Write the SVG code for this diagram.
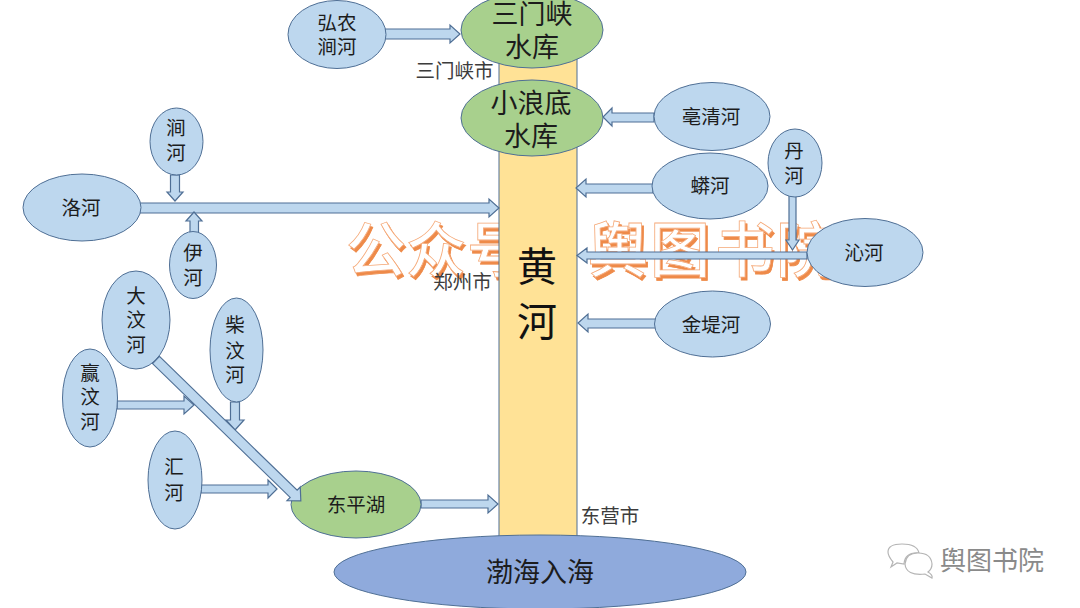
<svg xmlns="http://www.w3.org/2000/svg" width="1080" height="608" viewBox="0 0 1080 608">
<style>
text{font-family:"Liberation Sans","Noto Sans CJK SC",sans-serif;text-anchor:middle;fill:#1c1c1c}
.b ellipse{fill:#bdd7ee;stroke:#4f6f95;stroke-width:1}
.g ellipse{fill:#a8d08d;stroke:#4f6f95;stroke-width:1}
.a polygon{fill:#bdd7ee;stroke:#4f6f95;stroke-width:1.2;stroke-linejoin:miter}
.n{font-size:19.500px}
.l{font-size:27px}
.c{font-size:19.500px;fill:#3c3c3c}
.w{font-size:60px;font-weight:500;fill:#fff;stroke:#f5a978;stroke-width:0.800;filter:url(#sh)}
.m{font-size:26px;fill:#8a8a8a}
</style>
<defs><filter id="sh" x="-5%" y="-20%" width="110%" height="140%"><feDropShadow dx="2" dy="3" stdDeviation="0.2" flood-color="#ee8a48"/></filter></defs>
<rect width="1080" height="608" fill="#fff"/>
<text id="watermark" class="w" y="272"><tspan x="376">公</tspan><tspan x="436">众</tspan><tspan x="497">号</tspan><tspan x="618">舆</tspan><tspan x="680">图</tspan><tspan x="745">书</tspan><tspan x="806">院</tspan></text>
<g id="huanghe"><rect x="499" y="50" width="78" height="490" fill="#ffe296" stroke="#4f6f95" stroke-width="1"/><text x="537" y="281" style="font-size:40px;fill:#111">黄</text><text x="537" y="336" style="font-size:40px;fill:#111">河</text></g>
<g id="connectors" class="a">
<polygon points="385,29 450,29 450,25 460,34 450,43 450,39 385,39"/>
<polygon points="140,203 489,203 489,199 499,208 489,217 489,213 140,213"/>
<polygon points="654,113 612,113 612,108 603,117 612,126 612,122 654,122"/>
<polygon points="653,184 586,184 586,179 576,188 586,197 586,193 653,193"/>
<polygon points="807,252 587,252 587,248 577,255.500 587,263 587,259 807,259"/>
<polygon points="656,319 588,319 588,314 578,323 588,332 588,328 656,328"/>
<polygon points="170.500,175 179.500,175 179.500,192 183,192 175,201 167,192 170.500,192"/>
<polygon points="190,233 198.500,233 198.500,221 202,221 194,212 186,221 190,221"/>
<polygon points="117,401 184,401 184,396 194,405 184,414 184,409 117,409"/>
<polygon points="230.500,402 239.500,402 239.500,420 244,420 235,430 226,420 230.500,420"/>
<polygon points="201,485 268,485 268,480 277,489 268,498 268,493 201,493"/>
<polygon points="421,500 488,500 488,495 498,504 488,513 488,508 421,508"/>
<polygon points="789,196 796,196 796,240 799,240 792.500,250 786,240 789,240"/>
</g>
<g class="b">
<g id="hongnong"><ellipse cx="337" cy="34.500" rx="49" ry="34"/><text class="n" x="337" y="30">弘农</text><text class="n" x="337" y="54">涧河</text></g>
<g id="haoqing"><ellipse cx="712" cy="116.500" rx="58" ry="34"/><text class="n" x="711" y="124">亳清河</text></g>
<g id="mang"><ellipse cx="710" cy="186" rx="58" ry="33"/><text class="n" x="710" y="193">蟒河</text></g>
<g id="dan"><ellipse cx="795" cy="163" rx="27" ry="34"/><text class="n" x="794" y="158">丹</text><text class="n" x="794" y="183">河</text></g>
<g id="qin"><ellipse cx="865" cy="252.500" rx="58" ry="34"/><text class="n" x="864" y="260">沁河</text></g>
<g id="jindi"><ellipse cx="712.500" cy="324" rx="58" ry="33"/><text class="n" x="711" y="332">金堤河</text></g>
<g id="luo"><ellipse cx="82" cy="207.500" rx="59" ry="33.500"/><text class="n" x="81" y="215">洛河</text></g>
<g id="jian"><ellipse cx="176.500" cy="141.500" rx="26.500" ry="33.500"/><text class="n" x="176" y="135">涧</text><text class="n" x="176" y="160">河</text></g>
<g id="yi"><ellipse cx="193" cy="265" rx="23.500" ry="33.500"/><text class="n" x="193" y="260">伊</text><text class="n" x="193" y="285">河</text></g>
<g id="dawen"><ellipse cx="136" cy="320" rx="34" ry="49"/><text class="n" x="136" y="303">大</text><text class="n" x="136" y="327">汶</text><text class="n" x="136" y="352">河</text></g>
<g id="chaiwen"><ellipse cx="236.500" cy="350" rx="26.500" ry="52"/><text class="n" x="235" y="332">柴</text><text class="n" x="235" y="358">汶</text><text class="n" x="235" y="382">河</text></g>
<g id="yingwen"><ellipse cx="90" cy="398" rx="27.500" ry="49"/><text class="n" x="90" y="380">赢</text><text class="n" x="90" y="404">汶</text><text class="n" x="90" y="429">河</text></g>
<g id="hui"><ellipse cx="175" cy="480" rx="27" ry="49"/><text class="n" x="174" y="474">汇</text><text class="n" x="174" y="500">河</text></g>
</g>
<g class="g">
<g id="sanmenxia"><ellipse cx="532" cy="30" rx="71" ry="38"/><text class="l" x="532" y="24">三门峡</text><text class="l" x="532" y="57">水库</text></g>
<g id="xiaolangdi"><ellipse cx="532" cy="118" rx="71" ry="38"/><text class="l" x="531" y="113">小浪底</text><text class="l" x="531" y="146">水库</text></g>
<g id="dongping"><ellipse cx="356" cy="504.500" rx="65" ry="33.500"/><text class="n" x="356" y="512">东平湖</text></g>
</g>
<g class="a"><polygon id="dawen-arrow" transform="translate(156 360) rotate(44.200)" points="0,-5 192,-5 192,-9.500 202,0 192,9.500 192,5 0,5"/></g>
<g id="bohai"><ellipse cx="540" cy="572" rx="206" ry="37" fill="#8faadc" stroke="#4f6f95" stroke-width="1"/><text class="l" x="540" y="582">渤海入海</text></g>
<text class="c" x="454.500" y="78">三门峡市</text>
<text class="c" x="462.500" y="289">郑州市</text>
<text class="c" x="610" y="523">东营市</text>
<g id="logo" fill="#fff" stroke="#b5b5b5" stroke-width="1.200">
<path d="M893 562 Q888 556 888 552 Q888 544 902 544 Q917 544 919 553 Q905 552 904 564 L897 563 L891 567Z"/>
<path d="M928 572 Q933 575 932 578 L925 574 Q906 576 905 564 Q906 553 918 553 Q931 553 932 564 Q932 569 928 572Z"/>
</g>
<text id="mark" class="m" x="992" y="570">舆图书院</text>
</svg>
